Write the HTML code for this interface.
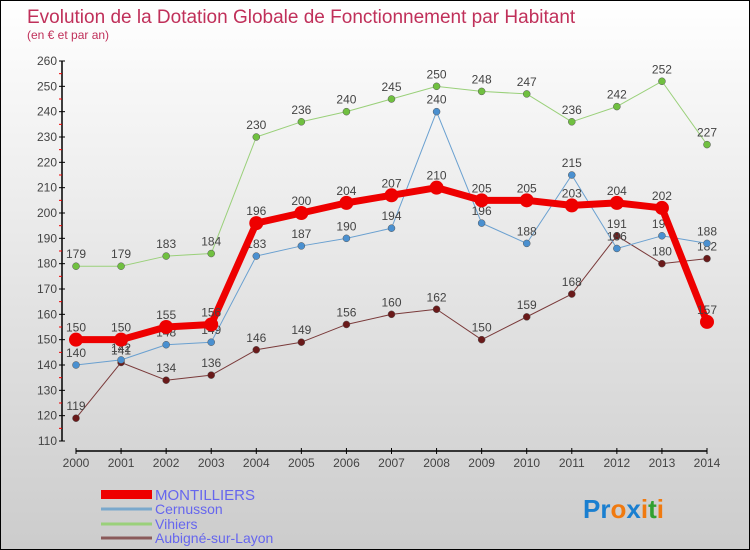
<!DOCTYPE html>
<html><head><meta charset="utf-8"><style>
body{margin:0;}
#c{width:748px;height:548px;border:1px solid #000;background:linear-gradient(#fff,#ccc);position:relative;overflow:hidden;font-family:"Liberation Sans",sans-serif;}
svg text{font-family:"Liberation Sans",sans-serif;}
</style></head><body>
<div id="c">
<svg id="s" width="748" height="548" xmlns="http://www.w3.org/2000/svg">
<text x="26" y="22" font-size="19" fill="#c0305a">Evolution de la Dotation Globale de Fonctionnement par Habitant</text>
<text x="26" y="38" font-size="12" fill="#c0305a">(en € et par an)</text>
<g id="axes"></g><g id="series"></g>
<g>
<rect x="100" y="489" width="51" height="9" fill="#e00"/>
<text x="154" y="499" font-size="15" fill="#6666ee">MONTILLIERS</text>
<line x1="100" y1="508" x2="151" y2="508" stroke="#7aa8cc" stroke-width="3"/>
<text x="154" y="513" font-size="14" fill="#6666ee">Cernusson</text>
<line x1="100" y1="523" x2="151" y2="523" stroke="#9ad07a" stroke-width="3"/>
<text x="154" y="528" font-size="14" fill="#6666ee">Vihiers</text>
<line x1="100" y1="537" x2="151" y2="537" stroke="#8a5a5a" stroke-width="3"/>
<text x="154" y="542" font-size="14" fill="#6666ee">Aubigné-sur-Layon</text>
</g>
<text x="582" y="517" font-size="26" font-weight="bold"><tspan fill="#1a7fd0">Pr</tspan><tspan fill="#f07a10">o</tspan><tspan fill="#1a7fd0">x</tspan><tspan fill="#f07a10">i</tspan><tspan fill="#30a030">t</tspan><tspan fill="#f07a10">i</tspan></text>
</svg></div>
<script>
const years=[2000,2001,2002,2003,2004,2005,2006,2007,2008,2009,2010,2011,2012,2013,2014];
const yTicks=[110,120,130,140,150,160,170,180,190,200,210,220,230,240,250,260];
const montilliers=[150,150,155,156,196,200,204,207,210,205,205,203,204,202,157];
const cernusson=[140,142,148,149,183,187,190,194,240,196,188,215,186,191,188];
const vihiers=[179,179,183,184,230,236,240,245,250,248,247,236,242,252,227];
const aubigne=[119,141,134,136,146,149,156,160,162,150,159,168,191,180,182];
const NS="http://www.w3.org/2000/svg";
function X(i){return 75+i*(706-75)/14;}
function Y(v){return 440-(v-110)*(380/150);}
function mk(t,a,p){const e=document.createElementNS(NS,t);for(const k in a)e.setAttribute(k,a[k]);p.appendChild(e);return e;}
const ax=document.getElementById('axes'),sg=document.getElementById('series');
let yl=mk('line',{x1:61,y1:Y(260),x2:61,y2:Y(110),stroke:'#000','stroke-width':1.5},ax);


yTicks.forEach(v=>{
 mk('line',{x1:58,y1:Y(v),x2:64,y2:Y(v),stroke:'#000'},ax);
 if(v<260)mk('line',{x1:58,y1:Y(v+5),x2:61,y2:Y(v+5),stroke:'#e00'},ax);
 const t=mk('text',{x:56,y:Y(v)+4,'font-size':12,fill:'#444','text-anchor':'end'},ax);t.textContent=v;
 
 
});
let xl=mk('line',{x1:X(0),y1:450,x2:X(14),y2:450,stroke:'#000','stroke-width':1.5},ax);


years.forEach((y,i)=>{
 mk('line',{x1:X(i),y1:447,x2:X(i),y2:453,stroke:'#000'},ax);
 const t=mk('text',{x:X(i),y:466,'font-size':12,fill:'#444','text-anchor':'middle'},ax);t.textContent=y;
 
 
});
function series(name,d,col,w,r,dot){
 const g=mk('g',{},sg);
 
 
 const pl=mk('polyline',{points:d.map((v,i)=>X(i)+','+Y(v)).join(' '),fill:'none',stroke:col,'stroke-width':w,'stroke-linejoin':'round'},g);
 
 
 d.forEach((v,i)=>{
  const c=mk('circle',{cx:X(i),cy:Y(v),r:r,fill:dot,stroke:'#555','stroke-width':r>5?0:0.5},g);
  
  
  const t=mk('text',{x:X(i),y:Y(v)-8,'font-size':12,fill:'#444','text-anchor':'middle'},g);t.textContent=v;
  
  
 });
}
series('aubigne',aubigne,'#7a3a3a',1,3.5,'#6a1a1a');
series('vihiers',vihiers,'#9ad07a',1,3.5,'#70c040');
series('cernusson',cernusson,'#6aa0d0',1,3.5,'#4a90d0');
series('montilliers',montilliers,'#ee0000',7,7,'#ee0000');
</script></body></html>
